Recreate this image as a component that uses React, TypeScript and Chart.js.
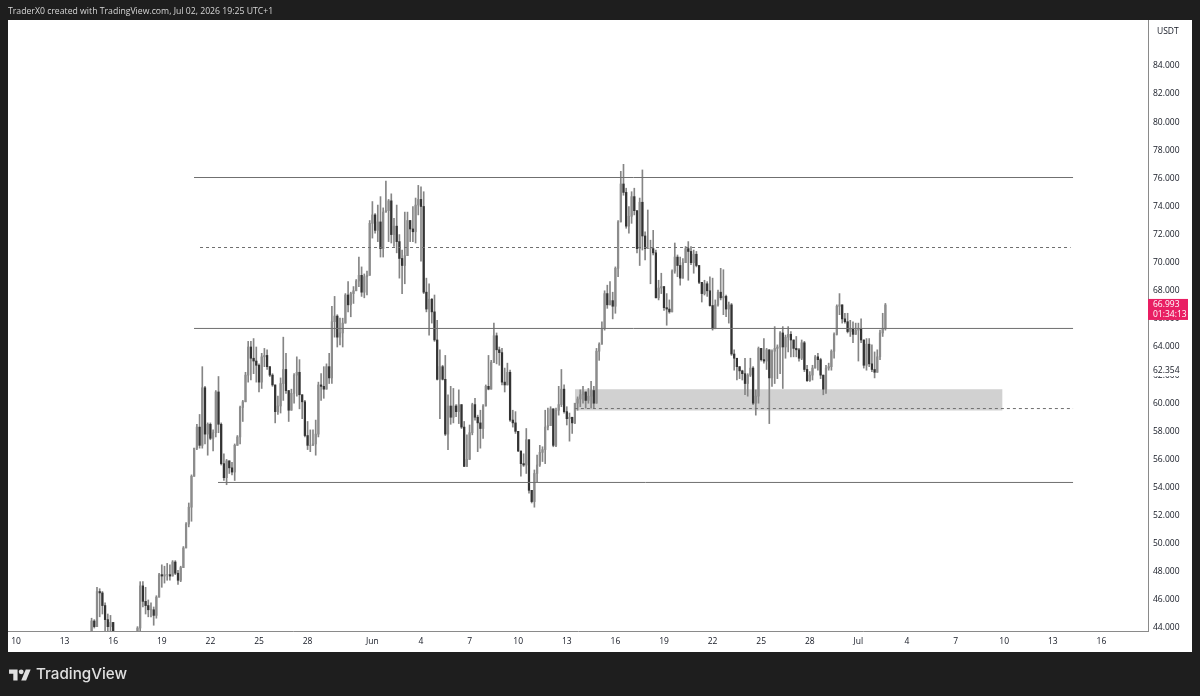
import React, { useEffect, useRef } from "react";
import { Chart, registerables } from "chart.js";

Chart.register(...registerables);

// 4h candles. First visible candle is 28 candles after May 10.
const candlesPerDay = 6;
const firstCandle = 28;
const firstOpen = 43.4;
const highs = [
  44.7,44.6,46.9,46.8,46.6,45.8,45.0,44.9,44.4,43.5,
  43.0,42.9,42.6,42.5,43.2,43.4,43.2,44.1,47.3,47.3,
  46.9,46.0,45.8,45.5,46.3,47.9,48.5,48.4,48.6,48.5,
  48.8,48.8,48.1,48.4,49.8,51.5,52.9,54.9,56.8,58.5,
  59.2,62.6,61.2,58.6,58.6,58.1,60.9,61.9,58.6,56.4,
  56.0,55.9,55.8,57.1,57.7,59.8,60.2,62.2,64.4,64.4,
  64.6,64.0,62.8,63.55,63.9,63.8,62.6,62.1,61.2,60.5,
  61.8,64.7,63.55,60.8,61.0,62.1,63.3,63.1,60.6,60.2,
  58.7,58.1,58.1,58.8,61.5,62.1,62.6,62.8,63.55,66.9,
  67.6,66.3,66.05,66.05,67.8,68.65,67.9,68.3,68.8,70.4,
  69.7,69.2,69.4,73.0,74.35,73.5,74.1,74.7,73.9,75.8,
  74.5,74.9,73.15,74.1,72.0,70.9,73.6,73.6,73.0,74.0,
  74.6,75.5,75.4,75.05,68.9,68.5,67.45,67.7,65.9,63.8,
  62.7,63.4,60.6,61.2,61.05,59.9,60.95,59.9,58.7,57.75,
  58.45,60.0,60.35,59.15,59.5,59.9,61.3,63.4,63.05,65.7,
  65.0,64.0,63.9,62.5,62.85,62.35,59.5,59.4,58.0,56.55,
  56.4,58.2,57.4,53.8,55.25,56.3,57.0,56.9,59.5,59.65,
  59.75,59.3,59.65,61.2,62.4,61.3,59.75,59.3,58.9,60.0,
  60.45,60.95,61.2,60.7,61.05,61.55,61.2,63.9,64.3,65.8,
  68.0,68.4,68.65,67.9,69.7,73.0,76.5,77.0,75.3,74.0,
  75.05,75.3,73.5,74.6,76.6,72.2,73.75,71.6,72.3,70.9,
  68.75,69.25,68.3,67.8,67.35,69.5,71.4,70.55,70.4,70.3,
  71.15,71.5,71.15,70.9,70.8,69.7,68.5,68.75,68.65,69.0,
  68.9,67.35,68.05,69.6,69.5,67.7,67.2,67.1,63.8,63.2,
  62.5,62.35,63.2,62.1,63.2,62.6,60.95,64.0,63.9,64.6,
  63.9,63.0,63.8,65.45,64.15,65.1,65.45,64.85,65.45,65.1,
  64.4,64.75,63.9,64.5,64.4,62.7,62.25,62.7,63.4,63.55,
  63.2,62.0,62.7,62.85,63.8,65.0,67.0,67.8,67.0,66.4,
  66.4,65.9,65.8,65.7,65.7,66.0,64.5,64.6,64.6,64.15,
  63.65,63.8,65.2,66.4,67.1,
];
const lows = [
  43.2,44.0,44.1,44.8,45.0,43.8,43.7,43.7,43.0,42.0,
  41.8,41.5,41.2,41.0,41.4,42.2,42.0,42.8,43.7,45.5,
  45.0,44.8,44.8,44.2,44.7,46.3,46.9,47.2,47.4,47.4,
  47.7,47.8,47.1,47.3,48.4,49.7,51.2,51.6,54.8,56.7,
  56.8,56.8,57.1,56.3,57.4,56.6,57.6,57.9,55.6,54.5,
  54.2,55.0,54.9,54.5,57.0,57.1,58.7,60.2,61.5,61.65,
  62.1,61.5,60.8,61.05,62.6,62.4,61.9,61.2,58.6,59.2,
  59.3,60.2,60.7,58.7,59.5,60.0,60.5,59.6,58.9,57.6,
  56.7,56.55,57.0,56.3,57.6,60.2,60.35,61.2,61.4,61.4,
  64.7,64.0,64.15,64.0,65.9,66.5,66.15,67.1,68.05,68.3,
  67.6,67.5,67.7,69.25,71.75,72.1,71.5,70.4,70.4,73.6,
  71.5,71.4,71.15,70.7,68.9,67.8,68.5,70.7,71.5,71.5,
  71.4,73.4,70.1,67.8,66.5,64.85,65.7,64.4,61.65,58.9,
  61.65,57.7,56.7,58.5,58.6,59.05,58.55,58.2,55.5,55.5,
  56.45,57.75,58.8,56.55,56.8,57.5,60.2,60.95,61.4,63.55,
  62.8,62.7,61.3,60.8,61.55,58.7,58.3,57.85,56.55,54.8,
  55.5,55.0,53.6,52.9,52.6,54.4,55.5,55.85,55.7,58.1,
  58.6,56.9,56.9,59.15,59.75,59.3,58.45,57.3,57.85,58.55,
  59.5,59.75,60.0,59.65,60.0,59.65,59.65,60.1,63.05,64.4,
  65.2,66.75,67.0,66.0,66.4,69.0,72.9,74.8,72.45,72.1,
  72.8,73.4,70.7,69.8,70.9,70.2,71.0,68.5,70.55,67.5,
  67.35,67.8,66.6,65.55,66.4,67.2,69.25,69.0,68.4,68.9,
  70.0,68.75,69.85,69.25,69.7,68.5,67.2,67.7,67.6,66.9,
  65.2,65.3,66.9,67.35,66.3,66.15,65.7,63.4,62.35,61.65,
  61.75,61.65,60.6,60.5,61.9,59.9,59.15,60.0,63.0,62.85,
  62.4,58.55,61.2,61.4,61.75,62.1,61.05,63.2,63.65,63.3,
  63.3,63.3,63.0,63.1,62.25,61.55,61.55,61.65,62.5,62.35,
  61.75,60.6,60.7,62.35,62.35,63.2,64.85,66.3,65.7,65.7,
  65.0,64.75,64.3,65.0,63.0,64.3,62.5,62.35,62.6,62.25,
  61.8,62.85,63.1,64.75,65.2,
];
const closes = [
  44.5,44.1,46.6,46.5,45.6,44.6,44.1,44.4,43.6,42.5,
  42.2,42.0,41.8,41.6,42.8,42.6,43.0,44.0,47.0,45.9,
  45.6,45.3,45.3,44.9,46.2,47.8,47.7,47.8,47.8,47.7,
  48.7,47.9,47.4,48.3,49.7,51.4,52.6,54.8,56.8,58.3,
  57.0,61.1,57.8,58.5,57.5,57.9,60.8,58.5,55.7,54.7,
  55.9,55.4,55.1,57.0,57.6,59.7,60.1,62.0,64.0,63.2,
  63.0,62.7,61.5,63.3,63.4,62.6,62.0,61.3,59.4,59.8,
  61.4,62.4,60.9,59.5,60.7,62.0,62.2,60.6,60.1,57.7,
  57.0,57.0,57.1,57.8,61.3,61.2,61.0,62.6,61.8,65.8,
  66.2,64.7,65.0,65.7,67.7,67.0,67.8,68.0,68.7,69.1,
  67.9,69.0,69.1,72.8,73.4,72.3,72.9,71.0,73.6,73.7,
  74.4,72.0,72.6,71.5,70.3,69.8,70.5,73.0,72.4,72.2,
  74.1,74.5,74.0,67.9,66.7,67.4,66.5,64.5,61.7,62.6,
  61.7,57.8,59.8,59.0,59.8,59.4,59.9,58.3,55.5,56.0,
  57.9,59.9,59.0,58.6,58.2,59.8,61.2,61.0,62.9,64.8,
  63.8,63.6,61.5,61.3,62.2,58.8,58.6,58.0,56.6,55.7,
  55.6,57.4,53.8,53.0,55.0,55.6,56.5,56.7,58.3,58.4,
  59.6,57.0,59.5,59.9,61.0,59.4,58.9,59.0,58.6,60.0,
  60.3,60.6,60.8,60.2,60.5,60.9,60.0,63.7,64.2,65.3,
  67.8,67.0,67.3,66.9,69.6,72.9,75.6,75.0,72.6,73.3,
  74.7,73.7,71.0,74.3,71.9,71.0,71.0,71.0,70.7,67.5,
  68.2,68.3,66.8,66.7,66.5,69.4,70.4,69.8,68.9,70.0,
  71.0,70.8,70.0,70.6,69.8,68.6,67.8,68.5,68.0,66.95,
  65.3,67.0,67.9,67.5,67.6,66.7,67.0,63.5,63.2,62.6,
  62.3,62.1,61.4,62.0,62.5,60.0,60.5,63.9,63.1,63.0,
  63.8,61.8,63.7,63.9,64.0,65.0,64.0,64.7,64.9,64.5,
  63.9,63.8,63.2,64.3,62.4,61.6,62.0,62.5,63.3,63.1,
  62.0,61.0,62.5,62.6,63.7,64.9,66.9,67.0,66.0,65.8,
  65.1,65.3,64.9,65.2,65.3,64.5,62.7,64.2,62.8,62.4,
  62.2,63.3,65.0,65.3,66.993,
];

// Axis ticks. Days counted from May 10.
const tickDays = [0,3,6,9,12,15,18,22,25,28,31,34,37,40,43,46,49,52,55,58,61,64,67];
const tickLabels = ["10","13","16","19","22","25","28","Jun","4","7","10","13","16","19","22","25","28","Jul","4","7","10","13","16"];
const priceTicks = [44,46,48,50,52,54,56,58,60,62,64,66,68,70,72,74,76,78,80,82,84];
const quoteCurrency = "USDT";
const lastPrice = 66.993;
const countdown = "01:34:13";
const secondPrice = 62.354;

// Drawn levels: [price, start day, end day]
const solidLevels = [
  [76.06, 10.99, 65.25],
  [65.32, 10.99, 65.25],
  [54.36, 12.47, 65.25],
];
const dashedLevels = [
  [71.08, 11.36, 65.1],
  [59.62, 34.5, 65.25],
];
const zoneTop = 61.0;
const zoneBottom = 59.48;
const zoneDays = [34.5, 60.9];

const headerText = "TraderX0 created with TradingView.com, Jul 02, 2026 19:25 UTC+1";
const brandText = "TradingView";

const FONT = '"Open Sans", sans-serif';

export default function App() {
  const ref = useRef<HTMLCanvasElement>(null);
  useEffect(() => {
    document.body.style.margin = "0";
    const dayOf = (j: number) => (firstCandle + j) / candlesPerDay;
    const opens = [firstOpen, ...closes.slice(0, -1)];
    const wicks: any[] = [];
    const upBodies: any[] = [];
    const downBodies: any[] = [];
    closes.forEach((c, j) => {
      const o = opens[j];
      wicks.push({ x: dayOf(j), y: [Math.min(lows[j], o, c), Math.max(highs[j], o, c)] });
      const body = { x: dayOf(j), y: [Math.min(o, c), Math.max(o, c) + 0.001] };
      (c >= o ? upBodies : downBodies).push(body);
    });
    const lineDs = (lv: number[], dash: number[]) => ({
      type: "line",
      data: [{ x: lv[1], y: lv[0] }, { x: lv[2], y: lv[0] }],
      borderColor: "#6f6f6f",
      borderWidth: 1,
      borderDash: dash,
      pointRadius: 0,
      order: 1,
    });
    const extras = {
      id: "extras",
      afterDraw(chart: any) {
        const { ctx, scales } = chart;
        const y = scales.y;
        ctx.save();
        ctx.font = `8.5px ${FONT}`;
        ctx.textBaseline = "middle";
        ctx.textAlign = "left";
        ctx.fillStyle = "#131722";
        ctx.fillText(quoteCurrency, 1157, 32);
        const sy = y.getPixelForValue(secondPrice);
        ctx.fillStyle = "#ffffff";
        ctx.fillRect(1149, sy - 5, 42, 11);
        ctx.fillStyle = "#131722";
        ctx.fillText(secondPrice.toFixed(3), 1153, sy);
        const py = y.getPixelForValue(lastPrice);
        ctx.fillStyle = "#e91e63";
        ctx.fillRect(1148, py - 6, 40, 21);
        ctx.fillStyle = "#ffffff";
        ctx.fillText(lastPrice.toFixed(3), 1153, py);
        ctx.fillText(countdown, 1153, py + 10);
        ctx.restore();
      },
    };
    const chart = new Chart(ref.current as HTMLCanvasElement, {
      data: {
        datasets: [
          {
            type: "line",
            data: zoneDays.map((d) => ({ x: d, y: zoneTop })),
            borderWidth: 0,
            pointRadius: 0,
            backgroundColor: "#d1d1d1",
            fill: { value: zoneBottom },
            order: 10,
          },
          { type: "bar", data: wicks, backgroundColor: "#858585", barThickness: 1, grouped: false, order: 6 },
          { type: "bar", data: upBodies, backgroundColor: "#8c8c8c", barThickness: 1.6, grouped: false, order: 5 },
          { type: "bar", data: downBodies, backgroundColor: "#333333", barThickness: 1.6, grouped: false, order: 4 },
          ...solidLevels.map((l) => lineDs(l, [])),
          ...dashedLevels.map((l) => lineDs(l, [3, 3])),
        ] as any,
      },
      options: {
        responsive: false,
        animation: false,
        devicePixelRatio: 1,
        layout: { padding: { left: 8, right: 8, top: 20, bottom: 44 } },
        plugins: { legend: { display: false }, tooltip: { enabled: false } },
        scales: {
          x: {
            type: "linear",
            offset: false,
            min: -2.96 / candlesPerDay,
            max: 419.26 / candlesPerDay,
            grid: { display: false, drawTicks: false },
            border: { color: "#8a8a8a", width: 1 },
            afterBuildTicks(axis: any) {
              axis.ticks = tickDays.map((v) => ({ value: v }));
            },
            afterFit(axis: any) { axis.height = 21; },
            ticks: {
              autoSkip: false,
              maxRotation: 0,
              padding: 5,
              color: "#131722",
              font: { size: 8.5, family: FONT },
              callback(v: any) {
                const i = tickDays.indexOf(v);
                return i >= 0 ? tickLabels[i] : "";
              },
            },
          },
          y: {
            position: "right",
            min: 43.79,
            max: 87.27,
            grid: { display: false, drawTicks: false },
            border: { color: "#8a8a8a", width: 1 },
            afterBuildTicks(axis: any) {
              axis.ticks = priceTicks.map((v) => ({ value: v }));
            },
            afterFit(axis: any) { axis.width = 44; },
            ticks: {
              padding: 5,
              color: "#131722",
              font: { size: 8.5, family: FONT },
              callback(v: any) { return Number(v).toFixed(3); },
            },
          },
        },
      } as any,
      plugins: [extras],
    } as any);
    return () => chart.destroy();
  }, []);

  return (
    <div style={{ position: "fixed", left: 0, top: 0, width: 1200, height: 696, background: "#1e1e1e", overflow: "hidden" }}>
      <div style={{ position: "absolute", left: 8, top: 20, width: 1184, height: 632, background: "#ffffff" }} />
      <canvas ref={ref} width={1200} height={696} style={{ position: "absolute", left: 0, top: 0, width: 1200, height: 696, filter: "blur(0.35px)" }} />
      <div style={{ position: "absolute", left: 8, top: 4, color: "#d6d6d6", font: `8.7px ${FONT}`, lineHeight: "14px", whiteSpace: "nowrap" }}>{headerText}</div>
      <svg style={{ position: "absolute", left: 9, top: 667 }} width="22" height="14" viewBox="0 0 36 23">
        <path fill="#e0e0e0" d="M14 22H7V11H0V4h14v18zM28 22h-8l7.5-18h8L28 22z" />
        <circle fill="#e0e0e0" cx="20" cy="8" r="4" />
      </svg>
      <div style={{ position: "absolute", left: 36, top: 663, color: "#e0e0e0", font: `500 15.2px Inter, sans-serif`, lineHeight: "22px", whiteSpace: "nowrap" }}>{brandText}</div>
    </div>
  );
}
